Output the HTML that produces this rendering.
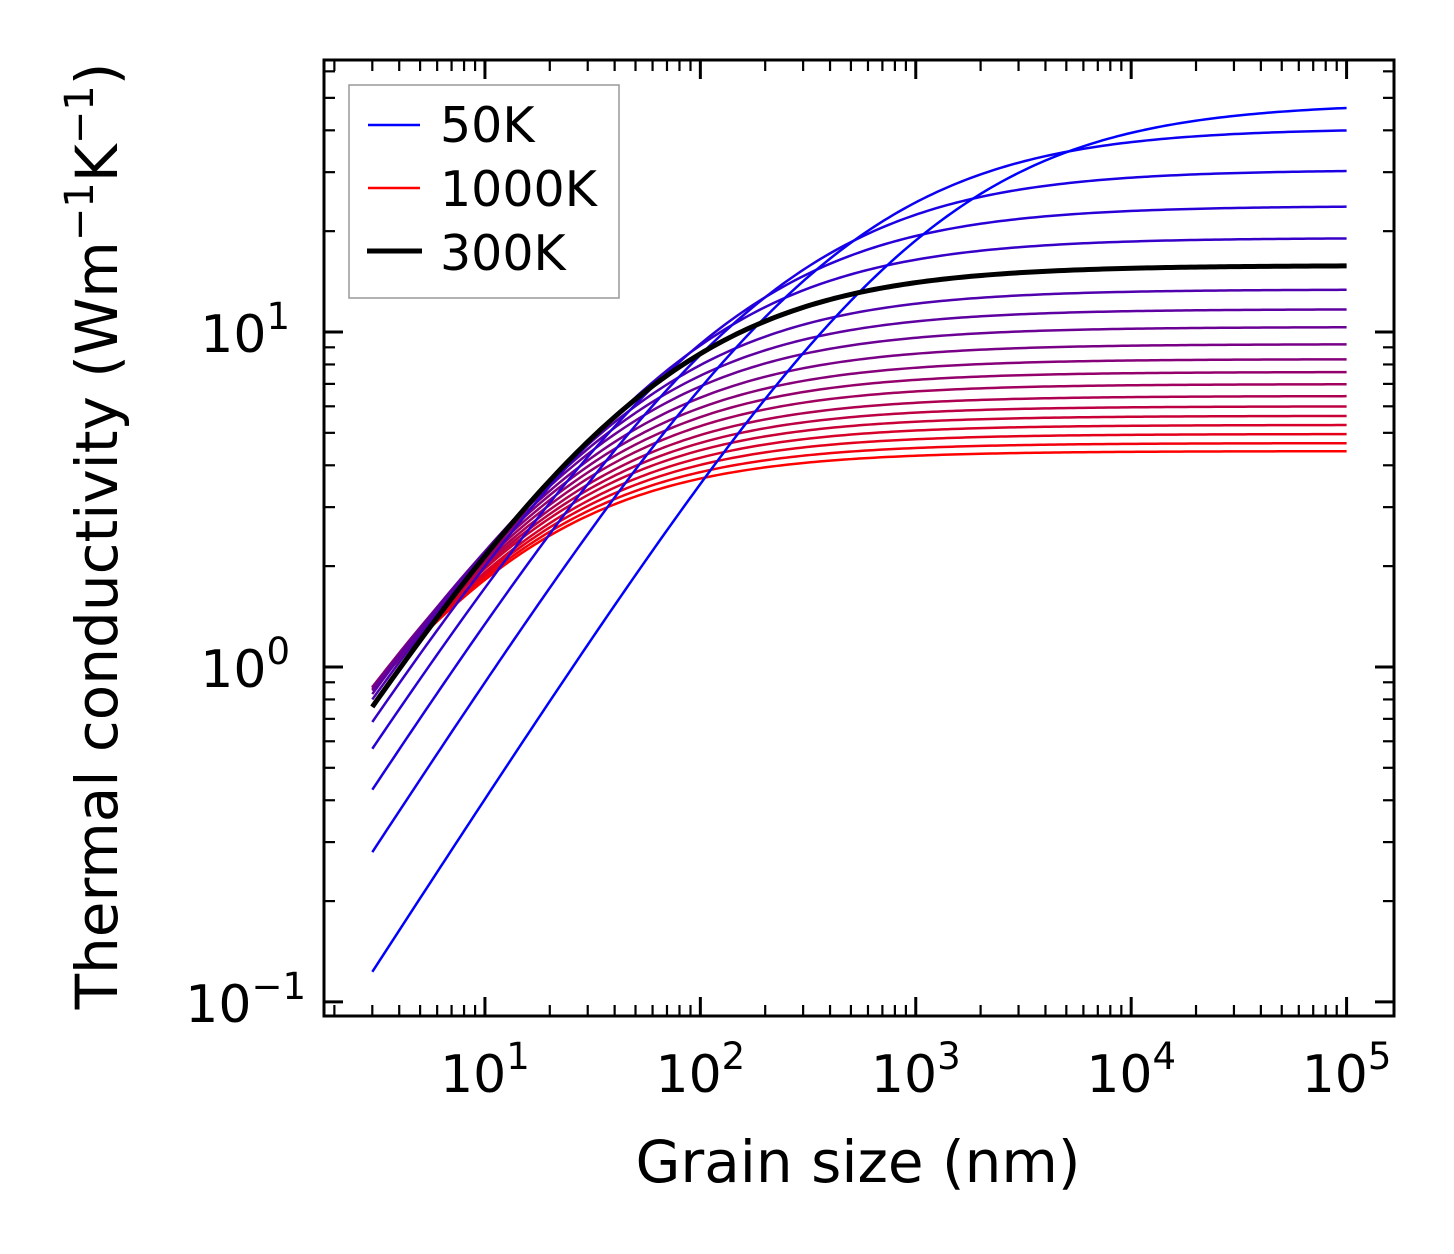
<!DOCTYPE html>
<html><head><meta charset="utf-8"><style>
html,body{margin:0;padding:0;background:#fff}
svg{display:block;font-family:"DejaVu Sans","Liberation Sans",sans-serif}
</style></head><body>
<svg id="chart" width="1454" height="1254" viewBox="0 0 1454 1254" xmlns="http://www.w3.org/2000/svg">
<rect width="1454" height="1254" fill="#fff"/>
<g id="curves"></g>
<g id="ticks"></g>
<rect x="324" y="60" width="1070" height="956" fill="none" stroke="#000" stroke-width="3"/>
<g>
<rect x="349" y="85" width="270" height="213" fill="#fff" stroke="#999" stroke-width="1.5"/>
<line x1="368" y1="125" x2="420" y2="125" stroke="#0000ff" stroke-width="2.5"/>
<text x="440" y="142" font-size="49">50K</text>
<line x1="368" y1="188" x2="420" y2="188" stroke="#ff0000" stroke-width="2.5"/>
<text x="440" y="206" font-size="49">1000K</text>
<line x1="367" y1="251" x2="422" y2="251" stroke="#000" stroke-width="5"/>
<text x="440" y="270" font-size="49">300K</text>
</g>
<text x="858" y="1182" font-size="58" text-anchor="middle">Grain size (nm)</text>
<text transform="translate(117,536) rotate(-90)" font-size="58" text-anchor="middle">Thermal conductivity (Wm<tspan font-size="40" dy="-24">−1</tspan><tspan dy="24">K</tspan><tspan font-size="40" dy="-24">−1</tspan><tspan dy="24">)</tspan></text>
</svg>
<script>
const temps = [50,100,150,200,250,300,350,400,450,500,550,600,650,700,750,800,850,900,950,1000];
const kBulk = [48.3,40.6,30.5,23.8,19.1,15.8,13.4,11.7,10.35,9.2,8.3,7.6,6.99,6.44,6.0,5.62,5.28,4.96,4.66,4.41];
const kAt3nm = [0.123,0.28,0.43,0.57,0.685,0.76,0.80,0.83,0.85,0.86,0.87,0.87,0.87,0.87,0.87,0.87,0.86,0.86,0.86,0.86];
const refT = 300, refBulk = 15.8, refAt3 = 0.76;
const xTickLabels = ["1","2","3","4","5"];
const yTickLabels = ["−1","0","1"];

const NS="http://www.w3.org/2000/svg";
const X0=324,X1=1394,Y0=60,Y1=1016;
const xl0=Math.log10(1.79), xl1=Math.log10(1.66e5);
const yl0=-1.042, yl1=1.812;
const SOFT=0.8;
function xs(v){return X0+(Math.log10(v)-xl0)/(xl1-xl0)*(X1-X0);}
function ys(v){return Y1-(Math.log10(v)-yl0)/(yl1-yl0)*(Y1-Y0);}
function mk(tag,attrs,parent){const e=document.createElementNS(NS,tag);for(const k in attrs)e.setAttribute(k,attrs[k]);parent.appendChild(e);return e;}
function pathFor(kb,k3){
  const L0=3*Math.pow(Math.pow(kb/k3,SOFT)-1,1/SOFT);let d="";
  for(let i=0;i<=200;i++){const L=3*Math.pow(1e5/3,i/200);const k=kb/Math.pow(1+Math.pow(L0/L,SOFT),1/SOFT);d+=(i?"L":"M")+xs(L).toFixed(2)+","+ys(k).toFixed(2);}
  return d;
}
const cg=document.getElementById('curves');
for(let i=temps.length-1;i>=0;i--){
  const f=(temps[i]-50)/950;
  const col=`rgb(${Math.round(255*f)},0,${Math.round(255*(1-f))})`;
  const p=mk('path',{d:pathFor(kBulk[i],kAt3nm[i]),fill:'none',stroke:col,'stroke-width':2.5},cg);
  
  
}
const bp=mk('path',{d:pathFor(refBulk,refAt3),fill:'none',stroke:'#000','stroke-width':5},cg);



const tg=document.getElementById('ticks');
for(let e=0;e<=5;e++){
  for(let m=1;m<10;m++){
    const v=m*Math.pow(10,e);const x=xs(v);
    if(x<X0+1||x>X1-1)continue;
    const len=m===1?19:11;
    const t1=mk('line',{x1:x,y1:Y1,x2:x,y2:Y1-len,stroke:'#000','stroke-width':m===1?3:2.2},tg);
    
    
    const t2=mk('line',{x1:x,y1:Y0,x2:x,y2:Y0+len,stroke:'#000','stroke-width':m===1?3:2.2},tg);
    
    
  }
}
xTickLabels.forEach(s=>{
  const x=xs(Math.pow(10,+s));
  const t=mk('text',{x:x,y:1092,'font-size':52,'text-anchor':'middle'},tg);
  
  
  t.innerHTML='10<tspan font-size="37" dy="-23">'+s+'</tspan>';
});
for(let e=-2;e<=1;e++){
  for(let m=1;m<10;m++){
    const v=m*Math.pow(10,e);const y=ys(v);
    if(y<Y0+1||y>Y1-1)continue;
    const len=m===1?19:11;
    const t1=mk('line',{x1:X0,y1:y,x2:X0+len,y2:y,stroke:'#000','stroke-width':m===1?3:2.2},tg);
    
    
    const t2=mk('line',{x1:X1,y1:y,x2:X1-len,y2:y,stroke:'#000','stroke-width':m===1?3:2.2},tg);
    
    
  }
}
yTickLabels.forEach(s=>{
  const e=s==="−1"?-1:+s;
  const y=ys(Math.pow(10,e));
  const t=mk('text',{x:s==="−1"?306:290,y:y+20,'font-size':52,'text-anchor':'end'},tg);
  
  
  t.innerHTML='10<tspan font-size="37" dy="-23">'+s+'</tspan>';
});
</script>
</body></html>
